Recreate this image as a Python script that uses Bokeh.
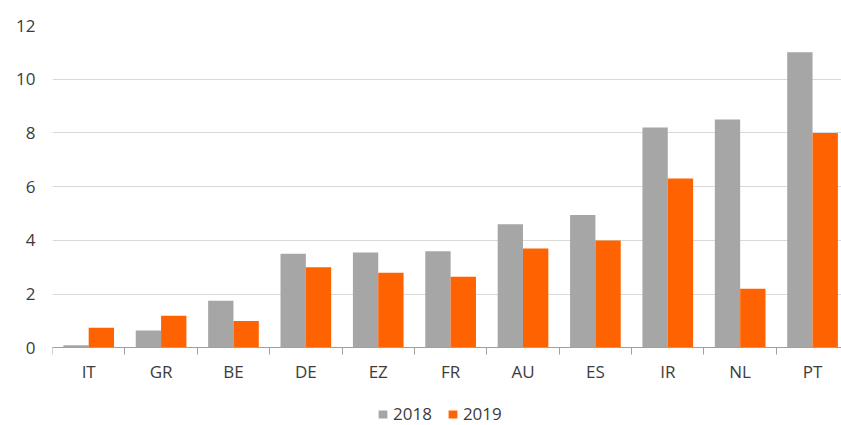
from bokeh.plotting import figure
from bokeh.models import Range1d, FixedTicker, Legend, LegendItem, ColumnDataSource
from bokeh.transform import dodge
from bokeh.embed import file_html
from bokeh.resources import INLINE

countries = ["IT", "GR", "BE", "DE", "EZ", "FR", "AU", "ES", "IR", "NL", "PT"]
v2018 = [0.1, 0.65, 1.75, 3.5, 3.55, 3.6, 4.6, 4.95, 8.2, 8.5, 11.0]
v2019 = [0.75, 1.2, 1.0, 3.0, 2.8, 2.65, 3.7, 4.0, 6.3, 2.2, 8.0]
series = ["2018", "2019"]
y_ticks = [0, 2, 4, 6, 8, 10, 12]

FONT = "Open Sans"
TEXT = "#3c3c3c"
GREY = "#a6a6a6"
ORANGE = "#ff6200"

pos = [i + 0.5 for i in range(len(countries))]
src = ColumnDataSource(dict(x=pos, y18=v2018, y19=v2019))

p = figure(width=841, height=425, x_range=Range1d(0, 10.9), y_range=Range1d(-2.89, 12),
           output_backend="svg", toolbar_location=None,
           min_border_left=52, min_border_right=0, min_border_top=25, min_border_bottom=0)
p.outline_line_color = None
p.background_fill_color = "white"
p.border_fill_color = "white"

r1 = p.vbar(x=dodge("x", -0.175), top="y18", width=0.35, source=src,
            fill_color=GREY, line_color=None)
r2 = p.vbar(x=dodge("x", 0.175), top="y19", width=0.35, source=src,
            fill_color=ORANGE, line_color=None)

# x axis, drawn at y = 0
xa = p.xaxis[0]
xa.fixed_location = 0
xa.ticker = FixedTicker(ticks=pos, minor_ticks=list(range(len(countries) + 1)))
xa.major_label_overrides = {pos[i]: c for i, c in enumerate(countries)}
xa.major_tick_line_color = None
xa.major_tick_out = 0
xa.major_tick_in = 0
xa.minor_tick_out = 7
xa.minor_tick_in = 0
xa.minor_tick_line_color = "#a0a0a0"
xa.axis_line_color = "#a0a0a0"
xa.major_label_standoff = 5
xa.major_label_text_font = FONT
xa.major_label_text_font_size = "17px"
xa.major_label_text_color = TEXT

# y axis
ya = p.yaxis[0]
ya.ticker = FixedTicker(ticks=y_ticks)
ya.axis_line_color = None
ya.major_tick_line_color = None
ya.minor_tick_line_color = None
ya.major_tick_out = 0
ya.major_tick_in = 0
ya.major_label_standoff = 17
ya.major_label_text_font = FONT
ya.major_label_text_font_size = "17px"
ya.major_label_text_color = TEXT

p.xgrid.visible = False
p.ygrid.grid_line_color = "#d9d9d9"
p.ygrid.grid_line_width = 1

legend = Legend(items=[LegendItem(label=series[0], renderers=[r1]),
                       LegendItem(label=series[1], renderers=[r2])],
                orientation="horizontal", location=(325, 0),
                padding=0, margin=0, spacing=15,
                glyph_width=11, glyph_height=10, label_standoff=5,
                border_line_color=None, background_fill_alpha=0,
                label_text_font=FONT, label_text_font_size="17px",
                label_text_color=TEXT)
p.add_layout(legend)

open("out.html", "w").write(file_html(p, INLINE))
